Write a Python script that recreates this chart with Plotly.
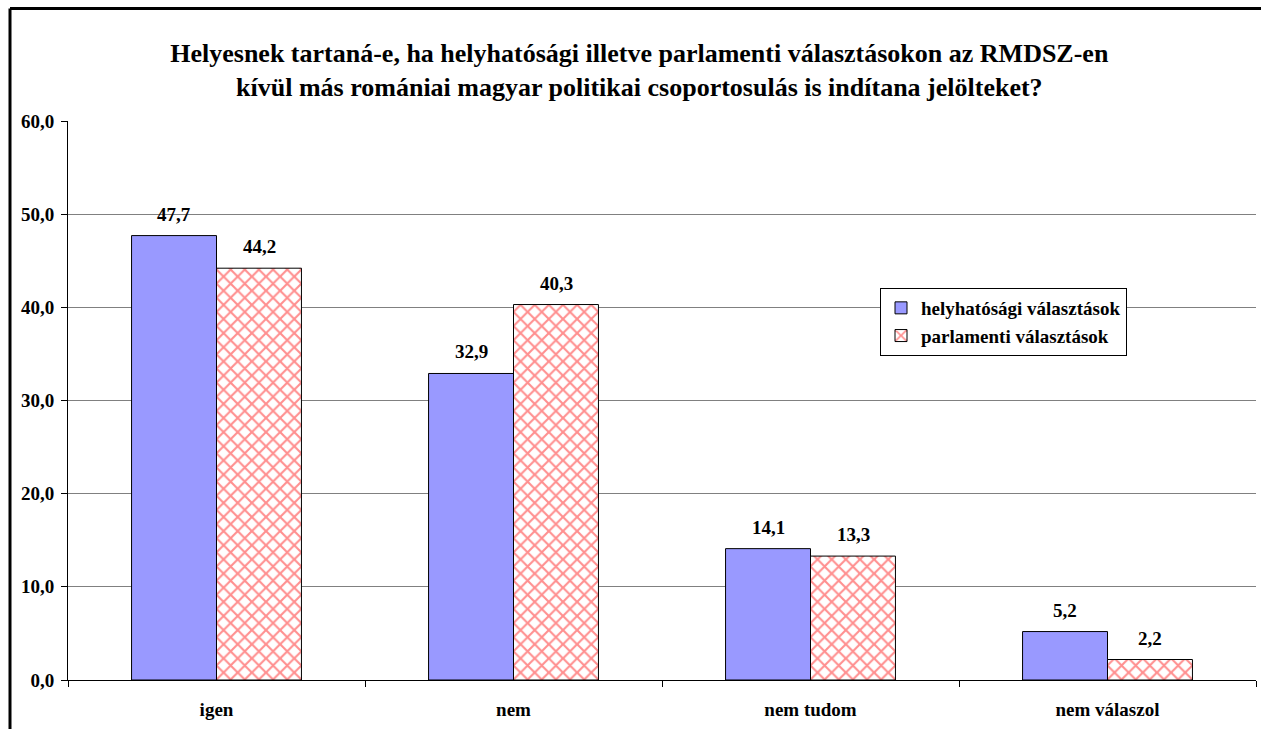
import plotly.graph_objects as go

categories = ["igen", "nem", "nem tudom", "nem válaszol"]
helyhatosagi = [47.7, 32.9, 14.1, 5.2]
parlamenti = [44.2, 40.3, 13.3, 2.2]
series_names = ["helyhatósági választások", "parlamenti választások"]
y_ticks = [0, 10, 20, 30, 40, 50, 60]

FONT = "Liberation Serif, Times New Roman, serif"
BAR_PX = 85  # on-screen width of one bar


def fmt(v):
    return f"{v:.1f}".replace(".", ",")


fig = go.Figure()
fig.add_trace(go.Bar(
    x=categories, y=helyhatosagi, name=f"<b>{series_names[0]}</b>",
    marker=dict(color="#9999FF", line=dict(color="black", width=1)),
))
fig.add_trace(go.Bar(
    x=categories, y=parlamenti, name=f"<b>{series_names[1]}</b>",
    marker=dict(color="white", line=dict(color="black", width=1),
                pattern=dict(shape="x", fgcolor="#FF2020", bgcolor="white",
                             size=10, solidity=0.38)),
))

# value labels above each bar
for series, shift in ((helyhatosagi, -BAR_PX / 2), (parlamenti, BAR_PX / 2)):
    for cat, v in zip(categories, series):
        fig.add_annotation(
            x=cat, y=v, text=f"<b>{fmt(v)}</b>", showarrow=False,
            xshift=shift, yshift=9, yanchor="bottom",
            font=dict(family=FONT, size=19, color="black"),
        )

fig.update_layout(
    width=1261, height=729,
    margin=dict(l=68, r=5, t=121, b=49),
    paper_bgcolor="white", plot_bgcolor="white",
    separators=", ",
    barmode="group", bargap=0.428, bargroupgap=0,
    font=dict(family=FONT, color="black"),
    title=dict(
        text="<b>Helyesnek tartaná-e, ha helyhatósági illetve parlamenti választásokon az RMDSZ-en<br>"
             "kívül más romániai magyar politikai csoportosulás is indítana jelölteket?</b>",
        x=0.507, xanchor="center", xref="container",
        y=1 - 62 / 729, yanchor="top", yref="container",
        font=dict(family=FONT, size=26, color="black"),
    ),
    legend=dict(
        x=(880 - 68) / 1188, y=(680 - 288) / 559, xanchor="left", yanchor="top",
        bgcolor="white", bordercolor="black", borderwidth=1,
        font=dict(family=FONT, size=19, color="black"),
        tracegroupgap=0,
    ),
    showlegend=True,
)

fig.update_yaxes(
    range=[0, 60], tickvals=y_ticks, tickformat=".1f",
    showgrid=True, gridcolor="#808080", gridwidth=1,
    showline=True, linecolor="black", linewidth=1,
    ticks="outside", ticklen=6, tickcolor="black",
    ticklabelstandoff=3,
    tickfont=dict(family=FONT, size=19, color="black", weight="bold"),
    zeroline=False,
)
fig.update_xaxes(
    showline=True, linecolor="black", linewidth=1,
    ticks="outside", tickson="boundaries", ticklen=6, tickcolor="black",
    ticklabelstandoff=12,
    tickfont=dict(family=FONT, size=19, color="black", weight="bold"),
)

# outer frame of the chart area (top and left edges), in pixels from the plot's top-left
fig.add_shape(type="line", xref="paper", yref="paper",
              xsizemode="pixel", ysizemode="pixel", xanchor=0, yanchor=1,
              x0=-58, x1=1300, y0=112.5, y1=112.5,
              line=dict(color="black", width=3), layer="above")
fig.add_shape(type="line", xref="paper", yref="paper",
              xsizemode="pixel", ysizemode="pixel", xanchor=0, yanchor=1,
              x0=-58, x1=-58, y0=-700, y1=112.5,
              line=dict(color="black", width=3), layer="above")

fig.write_html("out.html")
